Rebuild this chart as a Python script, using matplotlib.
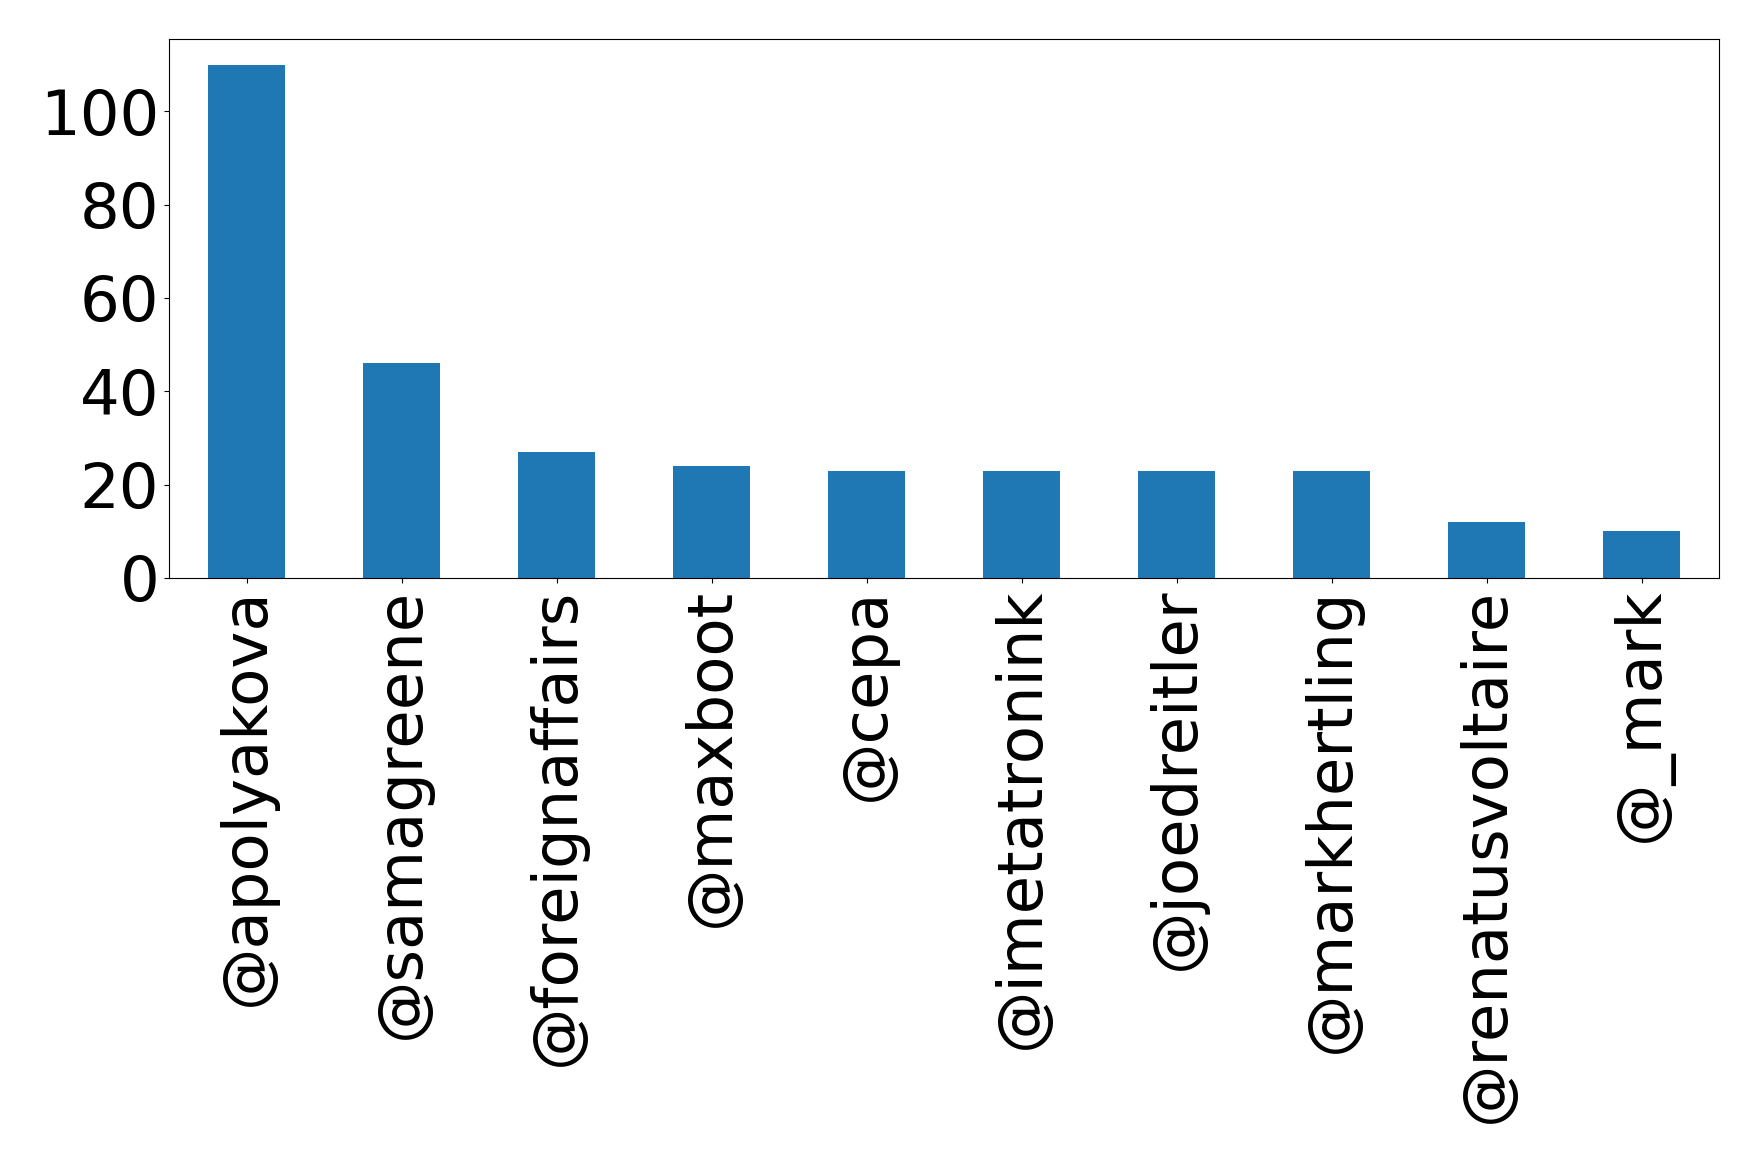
import matplotlib
matplotlib.use("Agg")
import matplotlib.pyplot as plt
import numpy as np

handles = ['@apolyakova', '@samagreene', '@foreignaffairs', '@maxboot', '@cepa',
           '@imetatronink', '@joedreitler', '@markhertling', '@renatusvoltaire', '@_mark']
counts = [110, 46, 27, 24, 23, 23, 23, 23, 12, 10]
yticks = [0, 20, 40, 60, 80, 100]

fig = plt.figure(figsize=(17.58, 11.63), dpi=100)
ax = fig.add_axes([169 / 1758, 1 - 578 / 1163, (1719 - 169) / 1758, (578 - 39) / 1163])

x = np.arange(len(handles))
ax.bar(x, counts, width=0.5, color='#1f77b4')
ax.set_xlim(-0.5, len(handles) - 0.5)
ax.set_ylim(0, max(counts) * 1.05)
ax.set_yticks(yticks)
ax.set_xticks(x)
ax.set_xticklabels(handles, rotation=90)
ax.tick_params(axis='both', labelsize=45)

fig.savefig('out.png', dpi=100)
